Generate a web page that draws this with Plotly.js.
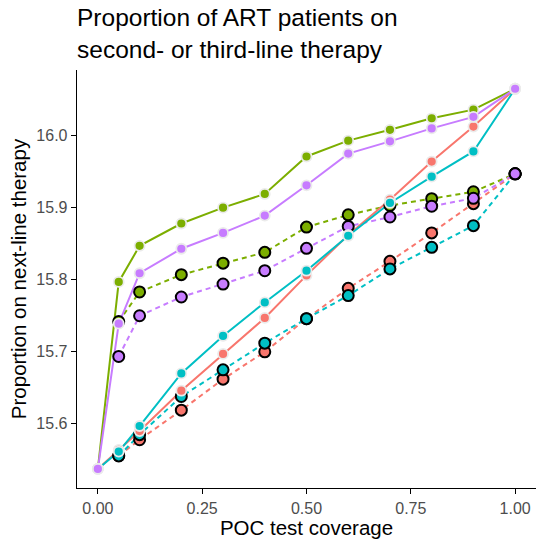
<!DOCTYPE html>
<html>
<head>
<meta charset="utf-8">
<script src="https://cdn.plot.ly/plotly-3.0.1.min.js"></script>
<style>html,body{margin:0;padding:0;background:#fff;}#chart{width:536px;height:539px;}</style>
</head>
<body>
<div id="chart"></div>
<script>
const coverage = [0, 0.05, 0.1, 0.2, 0.3, 0.4, 0.5, 0.6, 0.7, 0.8, 0.9, 1.0];

const redSolid    = [15.5375, 15.564, 15.590, 15.646, 15.697, 15.747, 15.806, 15.862, 15.911, 15.964, 16.0125, 16.065];
const greenSolid  = [15.5375, 15.797, 15.847, 15.878, 15.900, 15.919, 15.971, 15.993, 16.008, 16.024, 16.036, 16.065];
const cyanSolid   = [15.5375, 15.5615, 15.597, 15.670, 15.722, 15.7685, 15.8125, 15.861, 15.9065, 15.943, 15.978, 16.065];
const purpleSolid = [15.5375, 15.739, 15.809, 15.843, 15.865, 15.889, 15.931, 15.975, 15.992, 16.010, 16.026, 16.065];

// dashed series have no value at coverage 0
const redDashed    = [null, 15.556, 15.578, 15.619, 15.662, 15.700, 15.746, 15.788, 15.8255, 15.865, 15.9055, 15.947];
const greenDashed  = [null, 15.742, 15.783, 15.807, 15.823, 15.838, 15.873, 15.890, 15.903, 15.9125, 15.922, 15.947];
const cyanDashed   = [null, 15.5555, 15.585, 15.638, 15.675, 15.712, 15.746, 15.778, 15.815, 15.845, 15.875, 15.947];
const purpleDashed = [null, 15.6935, 15.750, 15.776, 15.794, 15.8125, 15.8435, 15.874, 15.887, 15.902, 15.913, 15.947];

const xTickVals = [0, 0.25, 0.5, 0.75, 1.0];
const xTickText = ["0.00", "0.25", "0.50", "0.75", "1.00"];
const yTickVals = [15.6, 15.7, 15.8, 15.9, 16.0];
const yTickText = ["15.6", "15.7", "15.8", "15.9", "16.0"];

const colors = {red: "#F8766D", green: "#7CAE00", cyan: "#00BFC4", purple: "#C77CFF"};

const dashedSeries = [
  {c: colors.red, y: redDashed},
  {c: colors.green, y: greenDashed},
  {c: colors.cyan, y: cyanDashed},
  {c: colors.purple, y: purpleDashed}
];
const solidSeries = [
  {c: colors.red, y: redSolid},
  {c: colors.green, y: greenSolid},
  {c: colors.cyan, y: cyanSolid},
  {c: colors.purple, y: purpleSolid}
];

const traces = [];
dashedSeries.forEach(s => traces.push({x: coverage, y: s.y, mode: "lines", type: "scatter", connectgaps: false,
  line: {color: s.c, width: 2, dash: "5px,4px"}, hoverinfo: "skip"}));
solidSeries.forEach(s => traces.push({x: coverage, y: s.y, mode: "lines", type: "scatter",
  line: {color: s.c, width: 2}, hoverinfo: "skip"}));
dashedSeries.forEach(s => traces.push({x: coverage, y: s.y, mode: "markers", type: "scatter",
  marker: {color: s.c, size: 11, line: {color: "#000000", width: 2}}}));
solidSeries.forEach(s => traces.push({x: coverage, y: s.y, mode: "markers", type: "scatter",
  marker: {color: s.c, size: 10, line: {color: "#EBEBEB", width: 1.8}}}));

const layout = {
  width: 536, height: 539,
  margin: {l: 77, r: 0, t: 70, b: 51},
  paper_bgcolor: "#ffffff", plot_bgcolor: "#ffffff",
  showlegend: false,
  font: {family: "Liberation Sans, Arial, sans-serif", color: "#000"},
  title: {text: "Proportion of ART patients on<br>second- or third-line therapy",
    x: 0, xref: "paper", xanchor: "left", y: 1 - 26/539, yref: "container", yanchor: "top",
    font: {size: 24.5, color: "#000"}},
  xaxis: {range: [-0.05, 1.05], tickvals: xTickVals, ticktext: xTickText,
    showgrid: false, zeroline: false, showline: true, linecolor: "#000", linewidth: 1.3,
    ticks: "outside", ticklen: 5, tickcolor: "#000", tickwidth: 1,
    tickfont: {size: 16, color: "#4D4D4D"},
    title: {text: "POC test coverage", font: {size: 20.5, color: "#000"}, standoff: 1}},
  yaxis: {range: [15.511, 16.091], tickvals: yTickVals, ticktext: yTickText,
    showgrid: false, zeroline: false, showline: true, linecolor: "#000", linewidth: 1.3,
    ticks: "outside", ticklen: 5, tickcolor: "#000", tickwidth: 1,
    tickfont: {size: 16, color: "#4D4D4D"},
    title: {text: "Proportion on next-line therapy", font: {size: 20.5, color: "#000"}, standoff: 4}}
};

Plotly.newPlot("chart", traces, layout, {displayModeBar: false, staticPlot: true});
</script>
</body>
</html>
